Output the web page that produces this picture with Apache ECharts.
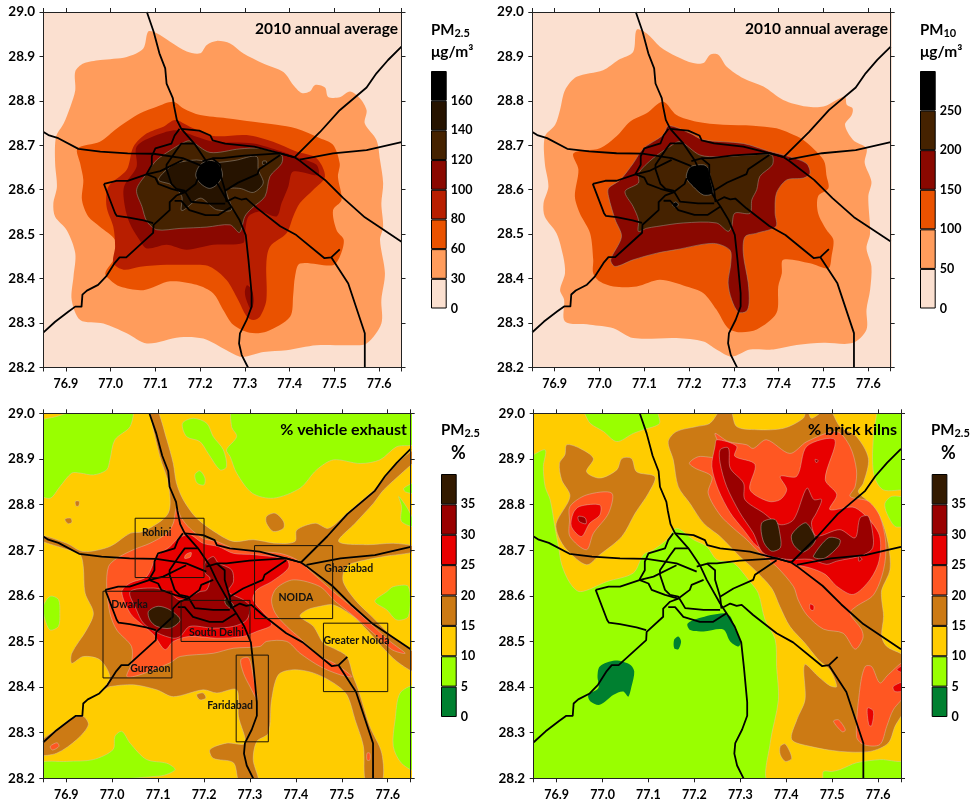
<!DOCTYPE html>
<html><head><meta charset="utf-8">
<style>html,body{margin:0;padding:0;background:#fff}#c{width:975px;height:804px}</style>
<script src="https://cdn.jsdelivr.net/npm/echarts@6/dist/echarts.min.js"></script>
</head><body><div id="c"></div>
<script>
// ---------- axis values ----------
const lonLabels=[76.9,77.0,77.1,77.2,77.3,77.4,77.5,77.6];
const lonTicks=[76.85,76.9,77.0,77.1,77.2,77.3,77.4,77.5,77.6,77.65];
const latLabels=[28.2,28.3,28.4,28.5,28.6,28.7,28.8,28.9,29.0];

// ---------- colour-bar tick labels ----------
const barPm25=['0','30','60','80','100','120','140','160',''];
const barPm10=['0','50','100','150','200','250',''];
const barPct=['0','5','10','15','20','25','30','35',''];

// ---------- plot extent ----------
const extent=[[76.84,28.19],[77.66,28.19],[77.66,29.01],[76.84,29.01]];

// ---------- roads (lon, lat) ----------
const roadNorth=[[77.081,29],[77.096,28.956],[77.109,28.907],[77.122,28.873],[77.125,28.839],[77.139,28.806],[77.142,28.787],[77.148,28.757],[77.158,28.737],[77.187,28.704],[77.212,28.667],[77.227,28.635],[77.256,28.583],[77.27,28.562],[77.288,28.532],[77.302,28.498],[77.308,28.442],[77.315,28.367],[77.315,28.337],[77.304,28.307],[77.289,28.277],[77.287,28.254],[77.293,28.228],[77.307,28.2]];
const roadWest=[[76.85,28.73],[76.861,28.723],[76.883,28.716],[76.928,28.692],[76.977,28.686],[77.038,28.682],[77.096,28.681],[77.161,28.671],[77.205,28.653]];
const roadEastInner=[[77.205,28.664],[77.23,28.671],[77.249,28.671],[77.299,28.677],[77.379,28.682],[77.411,28.673]];
const ringNorth=[[77.158,28.737],[77.198,28.733],[77.223,28.722],[77.228,28.711],[77.256,28.704],[77.321,28.697],[77.379,28.682],[77.411,28.673]];
const roadSouthEast=[[77.411,28.673],[77.423,28.665],[77.479,28.622],[77.52,28.581],[77.568,28.538],[77.65,28.483]];
const roadNorthEast=[[77.411,28.673],[77.468,28.73],[77.512,28.779],[77.572,28.83],[77.594,28.862],[77.62,28.892],[77.65,28.922]];
const roadEast=[[77.423,28.668],[77.497,28.682],[77.572,28.689],[77.65,28.707]];
const roadSouthWest=[[76.85,28.279],[76.876,28.303],[76.906,28.326],[76.921,28.337],[76.935,28.337],[76.937,28.364],[76.947,28.373],[76.972,28.386],[76.99,28.405],[77.009,28.435],[77.02,28.448],[77.035,28.448],[77.071,28.481],[77.095,28.503],[77.096,28.521],[77.132,28.554],[77.132,28.572],[77.147,28.587],[77.165,28.594],[77.19,28.613],[77.194,28.624],[77.22,28.635]];
const ringWestA=[[76.985,28.613],[77.01,28.547],[77.014,28.541],[77.038,28.538],[77.074,28.531],[77.095,28.525]];
const ringWestB=[[76.985,28.613],[77.013,28.62],[77.038,28.62],[77.082,28.635],[77.111,28.642],[77.161,28.667]];
const ringInnerA=[[77.154,28.737],[77.143,28.722],[77.136,28.704],[77.1,28.693],[77.092,28.675],[77.092,28.656],[77.08,28.635]];
const ringInnerB=[[77.187,28.704],[77.158,28.704],[77.147,28.689],[77.125,28.656],[77.125,28.646],[77.136,28.613],[77.147,28.602],[77.165,28.598],[77.18,28.573],[77.22,28.569],[77.256,28.569]];
const ringInnerC=[[77.08,28.635],[77.1,28.627],[77.107,28.613],[77.136,28.602],[77.165,28.594]];
const ringCentre=[[77.227,28.671],[77.245,28.656],[77.245,28.635],[77.256,28.598],[77.259,28.572]];
const ringSouth=[[77.143,28.575],[77.158,28.575],[77.176,28.554],[77.212,28.543],[77.241,28.543],[77.27,28.562]];
const roadConnector=[[77.256,28.598],[77.285,28.616],[77.328,28.635],[77.332,28.646],[77.379,28.678]];
const roadSE2=[[77.263,28.575],[77.278,28.583],[77.292,28.578],[77.303,28.58],[77.328,28.558],[77.379,28.518],[77.415,28.498],[77.478,28.446],[77.493,28.448],[77.512,28.466]];
const roadSE3=[[77.493,28.448],[77.531,28.389],[77.568,28.277],[77.568,28.2]];

// ---------- PM2.5 annual contours ----------
const pm25L30=[[77.084,28.956],[77.103,28.952],[77.133,28.933],[77.17,28.911],[77.2,28.907],[77.215,28.926],[77.237,28.935],[77.267,28.929],[77.296,28.907],[77.341,28.884],[77.386,28.865],[77.408,28.836],[77.427,28.818],[77.445,28.821],[77.457,28.836],[77.479,28.83],[77.486,28.809],[77.512,28.808],[77.535,28.821],[77.557,28.806],[77.572,28.779],[77.568,28.749],[77.594,28.712],[77.602,28.667],[77.609,28.614],[77.605,28.569],[77.609,28.517],[77.602,28.487],[77.613,28.412],[77.605,28.352],[77.605,28.299],[77.572,28.254],[77.535,28.25],[77.46,28.25],[77.393,28.239],[77.341,28.235],[77.293,28.224],[77.259,28.239],[77.207,28.265],[77.155,28.268],[77.081,28.254],[77.036,28.277],[76.984,28.299],[76.932,28.307],[76.913,28.352],[76.917,28.404],[76.921,28.457],[76.902,28.509],[76.876,28.539],[76.872,28.569],[76.88,28.607],[76.876,28.659],[76.878,28.719],[76.895,28.749],[76.91,28.787],[76.921,28.824],[76.921,28.866],[76.939,28.884],[76.977,28.892],[77.036,28.899],[77.073,28.918]];
const pm25L60=[[77.14,28.798],[77.163,28.783],[77.2,28.768],[77.259,28.761],[77.319,28.753],[77.371,28.746],[77.415,28.738],[77.468,28.716],[77.497,28.701],[77.512,28.659],[77.508,28.629],[77.516,28.577],[77.497,28.554],[77.505,28.509],[77.521,28.487],[77.512,28.449],[77.497,28.43],[77.423,28.434],[77.412,28.404],[77.408,28.363],[77.401,28.314],[77.349,28.281],[77.311,28.278],[77.274,28.296],[77.252,28.329],[77.229,28.367],[77.192,28.386],[77.133,28.394],[77.073,28.374],[77.021,28.382],[76.999,28.397],[76.988,28.412],[77.01,28.449],[77.01,28.487],[76.976,28.517],[76.95,28.54],[76.936,28.577],[76.939,28.622],[76.932,28.659],[76.926,28.693],[76.976,28.708],[77.014,28.738],[77.066,28.772],[77.103,28.787]];
const pm25L80=[[77.144,28.757],[77.177,28.742],[77.229,28.721],[77.304,28.723],[77.363,28.708],[77.415,28.686],[77.46,28.671],[77.479,28.63],[77.453,28.6],[77.423,28.57],[77.408,28.54],[77.393,28.502],[77.356,28.472],[77.348,28.434],[77.348,28.352],[77.334,28.315],[77.319,28.307],[77.304,28.315],[77.285,28.352],[77.259,28.397],[77.222,28.427],[77.177,28.431],[77.125,28.431],[77.066,28.427],[77.029,28.42],[77.006,28.435],[77.01,28.472],[77.006,28.517],[76.991,28.562],[76.995,28.607],[77.036,28.645],[77.051,28.697],[77.081,28.727],[77.118,28.742]];
const pm25L100=[[77.148,28.734],[77.192,28.719],[77.229,28.708],[77.319,28.704],[77.382,28.686],[77.423,28.671],[77.46,28.656],[77.464,28.633],[77.408,28.641],[77.397,28.607],[77.382,28.57],[77.371,28.54],[77.334,28.551],[77.308,28.54],[77.3,28.502],[77.296,28.48],[77.229,28.476],[77.17,28.465],[77.125,28.476],[77.081,28.468],[77.062,28.491],[77.043,28.524],[77.032,28.562],[77.03,28.607],[77.058,28.652],[77.058,28.697],[77.103,28.723]];
const pm25L100b=[[77.305,28.385],[77.315,28.375],[77.32,28.35],[77.314,28.33],[77.304,28.35],[77.3,28.37]];
const pm25L120=[[77.159,28.704],[77.177,28.71],[77.222,28.684],[77.289,28.692],[77.334,28.693],[77.382,28.678],[77.382,28.659],[77.356,28.63],[77.345,28.585],[77.315,28.558],[77.3,28.54],[77.288,28.504],[77.267,28.521],[77.215,28.516],[77.155,28.513],[77.103,28.51],[77.081,28.529],[77.07,28.562],[77.058,28.6],[77.081,28.637],[77.103,28.667],[77.14,28.693]];
const pm25L140=[[77.192,28.667],[77.229,28.661],[77.278,28.666],[77.326,28.675],[77.33,28.645],[77.341,28.615],[77.319,28.594],[77.289,28.603],[77.259,28.6],[77.27,28.555],[77.237,28.555],[77.226,28.562],[77.2,28.581],[77.159,28.553],[77.159,28.585],[77.136,28.611],[77.107,28.622],[77.125,28.645],[77.148,28.66]];
const pm25L140b=[[77.34,28.664],[77.348,28.664],[77.348,28.657],[77.34,28.657]];
const pm25L160=[[77.22,28.666],[77.24,28.66],[77.25,28.633],[77.237,28.611],[77.22,28.603],[77.2,28.615],[77.19,28.633],[77.2,28.656]];

// ---------- PM10 annual contours ----------
const pm10L50=[[77.083,28.96],[77.105,28.952],[77.135,28.922],[77.172,28.9],[77.209,28.885],[77.232,28.885],[77.247,28.904],[77.265,28.904],[77.284,28.877],[77.321,28.851],[77.366,28.832],[77.41,28.802],[77.462,28.787],[77.5,28.787],[77.529,28.802],[77.548,28.809],[77.552,28.791],[77.565,28.783],[77.563,28.768],[77.548,28.746],[77.566,28.712],[77.596,28.693],[77.592,28.66],[77.607,28.618],[77.6,28.585],[77.604,28.502],[77.596,28.468],[77.607,28.427],[77.604,28.374],[77.596,28.33],[77.596,28.285],[77.566,28.255],[77.5,28.255],[77.44,28.25],[77.388,28.24],[77.336,28.24],[77.295,28.224],[77.261,28.24],[77.232,28.258],[77.172,28.266],[77.075,28.266],[77.031,28.288],[76.979,28.296],[76.923,28.303],[76.921,28.352],[76.912,28.374],[76.923,28.412],[76.919,28.45],[76.904,28.502],[76.878,28.539],[76.875,28.569],[76.886,28.607],[76.878,28.659],[76.878,28.719],[76.901,28.746],[76.912,28.78],[76.923,28.824],[76.949,28.854],[77.008,28.869],[77.042,28.892],[77.075,28.91]];
const pm10L100=[[77.142,28.798],[77.172,28.768],[77.217,28.753],[77.276,28.746],[77.343,28.744],[77.395,28.738],[77.425,28.727],[77.455,28.712],[77.5,28.667],[77.507,28.63],[77.511,28.603],[77.488,28.585],[77.488,28.547],[77.507,28.509],[77.522,28.487],[77.518,28.45],[77.511,28.423],[77.47,28.434],[77.41,28.442],[77.407,28.412],[77.399,28.382],[77.395,28.322],[77.351,28.285],[77.313,28.279],[77.287,28.288],[77.261,28.33],[77.232,28.367],[77.194,28.382],[77.135,28.397],[77.083,28.382],[77.031,28.382],[77.001,28.393],[76.986,28.412],[76.986,28.442],[76.979,28.502],[76.956,28.547],[76.945,28.585],[76.953,28.645],[76.942,28.682],[77.001,28.693],[77.038,28.72],[77.068,28.753],[77.105,28.772]];
const pm10L150=[[77.154,28.744],[77.202,28.727],[77.232,28.712],[77.321,28.704],[77.38,28.686],[77.425,28.674],[77.462,28.659],[77.47,28.637],[77.455,28.626],[77.418,28.622],[77.395,28.592],[77.392,28.547],[77.394,28.517],[77.351,28.502],[77.325,28.494],[77.321,28.457],[77.332,28.39],[77.334,28.345],[77.328,28.326],[77.31,28.324],[77.295,28.352],[77.287,28.39],[77.293,28.434],[77.291,28.464],[77.254,28.479],[77.172,28.465],[77.128,28.457],[77.075,28.442],[77.035,28.427],[77.025,28.442],[77.049,28.494],[77.035,28.532],[77.02,28.585],[77.02,28.603],[77.046,28.622],[77.075,28.659],[77.098,28.693],[77.142,28.723]];
const pm10L200=[[77.157,28.697],[77.18,28.708],[77.224,28.678],[77.269,28.674],[77.336,28.678],[77.384,28.678],[77.386,28.656],[77.358,28.63],[77.351,28.6],[77.34,28.577],[77.336,28.547],[77.302,28.547],[77.295,28.517],[77.287,28.506],[77.261,28.525],[77.187,28.525],[77.128,28.517],[77.105,28.513],[77.087,28.506],[77.087,28.532],[77.075,28.562],[77.057,28.596],[77.087,28.615],[77.087,28.637],[77.12,28.671]];
const pm10L250=[[77.206,28.653],[77.232,28.656],[77.243,28.648],[77.248,28.622],[77.253,28.592],[77.232,28.588],[77.209,28.607],[77.194,28.626],[77.198,28.645]];
const pm10L250b=[[77.169,28.572],[77.174,28.57],[77.176,28.566],[77.17,28.56],[77.163,28.566]];

// ---------- % vehicle exhaust contours ----------
const vehLimeA=[[76.84,28.978],[76.879,28.993],[76.944,29.01],[77.042,29.01],[77.039,28.971],[77.006,28.942],[76.995,28.898],[76.988,28.876],[76.959,28.865],[76.93,28.869],[76.912,28.869],[76.886,28.839],[76.865,28.814],[76.84,28.825]];
const vehLimeB=[[77.264,29.01],[77.66,29.01],[77.66,28.934],[77.62,28.927],[77.583,28.898],[77.54,28.89],[77.482,28.898],[77.445,28.876],[77.409,28.836],[77.351,28.814],[77.305,28.825],[77.271,28.869],[77.257,28.905],[77.249,28.92],[77.271,28.949],[77.26,28.971]];
const vehLimeC=[[77.153,28.978],[77.177,28.989],[77.206,28.978],[77.22,28.949],[77.242,28.92],[77.249,28.883],[77.235,28.876],[77.209,28.912],[77.191,28.938],[77.162,28.949]];
const vehLimeD=[[77.18,28.865],[77.191,28.874],[77.202,28.858],[77.2,28.843],[77.185,28.847]];
const vehLimeE=[[76.85,28.577],[76.865,28.599],[76.883,28.592],[76.886,28.562],[76.883,28.533],[76.865,28.525],[76.854,28.547]];
const vehLimeF=[[77.572,28.588],[77.598,28.609],[77.612,28.62],[77.645,28.62],[77.645,28.555],[77.62,28.547],[77.598,28.569]];
const vehLimeG=[[77.66,28.847],[77.635,28.836],[77.638,28.828],[77.66,28.825]];
const vehLimeH=[[77.624,28.818],[77.645,28.788],[77.66,28.752],[77.63,28.763],[77.63,28.796]];
const vehLimeI=[[77.66,28.401],[77.627,28.387],[77.616,28.328],[77.612,28.27],[77.63,28.233],[77.66,28.219]];
const vehLimeJ=[[76.84,28.233],[76.901,28.237],[76.959,28.241],[77.002,28.263],[77.006,28.292],[77.021,28.303],[77.039,28.277],[77.075,28.241],[77.119,28.233],[77.137,28.219],[77.104,28.205],[76.84,28.195]];
const vehBrownMain=[[77.082,29.01],[77.097,29.01],[77.119,28.942],[77.133,28.89],[77.14,28.847],[77.155,28.81],[77.184,28.77],[77.228,28.737],[77.264,28.719],[77.307,28.723],[77.358,28.715],[77.398,28.719],[77.402,28.744],[77.442,28.759],[77.471,28.748],[77.511,28.781],[77.554,28.818],[77.576,28.838],[77.62,28.89],[77.66,28.921],[77.66,28.898],[77.634,28.872],[77.591,28.832],[77.569,28.803],[77.529,28.759],[77.493,28.719],[77.554,28.712],[77.612,28.715],[77.66,28.708],[77.66,28.697],[77.591,28.686],[77.525,28.672],[77.507,28.661],[77.503,28.631],[77.529,28.591],[77.565,28.555],[77.605,28.515],[77.66,28.471],[77.66,28.434],[77.62,28.456],[77.587,28.489],[77.554,28.526],[77.525,28.555],[77.482,28.58],[77.453,28.577],[77.424,28.569],[77.409,28.555],[77.438,28.533],[77.46,28.496],[77.482,28.485],[77.511,28.467],[77.525,28.423],[77.536,28.394],[77.561,28.314],[77.587,28.255],[77.587,28.19],[77.553,28.19],[77.547,28.27],[77.529,28.328],[77.511,28.383],[77.482,28.409],[77.438,28.431],[77.395,28.438],[77.362,28.427],[77.347,28.372],[77.34,28.299],[77.315,28.281],[77.307,28.241],[77.318,28.19],[77.278,28.19],[77.264,28.234],[77.22,28.244],[77.213,28.263],[77.249,28.277],[77.289,28.277],[77.275,28.336],[77.271,28.394],[77.228,28.387],[77.198,28.394],[77.133,28.379],[77.097,28.394],[77.046,28.405],[76.995,28.401],[76.981,28.394],[76.995,28.423],[76.973,28.46],[76.937,28.467],[76.912,28.452],[76.912,28.474],[76.944,28.525],[76.959,28.562],[76.941,28.606],[76.937,28.664],[76.93,28.69],[76.894,28.704],[76.84,28.723],[76.84,28.734],[76.901,28.715],[76.937,28.697],[76.995,28.708],[77.039,28.737],[77.068,28.741],[77.122,28.781],[77.122,28.847],[77.104,28.905]];
const vehBrownSW=[[76.84,28.277],[76.883,28.31],[76.912,28.332],[76.937,28.336],[76.948,28.317],[76.923,28.285],[76.879,28.255],[76.84,28.252]];
const vehBrownN=[[77.336,28.774],[77.355,28.781],[77.373,28.763],[77.373,28.748],[77.351,28.741],[77.336,28.759]];
const vehBrownA=[[76.897,28.768],[76.91,28.77],[76.912,28.761],[76.904,28.758]];
const vehBrownB=[[76.92,28.807],[76.928,28.807],[76.927,28.797],[76.921,28.797]];
const vehBrownC=[[77.184,28.383],[77.198,28.387],[77.204,28.376],[77.191,28.372]];
const vehOrangeMain=[[77.14,28.792],[77.151,28.77],[77.169,28.748],[77.198,28.726],[77.228,28.719],[77.264,28.704],[77.315,28.697],[77.365,28.693],[77.402,28.679],[77.445,28.642],[77.482,28.609],[77.525,28.573],[77.569,28.533],[77.605,28.5],[77.638,28.474],[77.609,28.482],[77.569,28.518],[77.518,28.562],[77.482,28.591],[77.453,28.62],[77.395,28.635],[77.358,28.617],[77.347,28.591],[77.355,28.562],[77.38,28.533],[77.409,28.507],[77.453,28.467],[77.482,28.453],[77.522,28.423],[77.496,28.427],[77.453,28.445],[77.409,28.474],[77.38,28.5],[77.336,28.5],[77.322,28.489],[77.264,28.485],[77.22,28.474],[77.148,28.467],[77.126,28.453],[77.061,28.427],[77.032,28.423],[77.042,28.452],[77.042,28.489],[77.01,28.525],[76.995,28.562],[76.988,28.62],[76.992,28.664],[77.01,28.682],[77.046,28.701],[77.082,28.715],[77.119,28.737],[77.133,28.759]];
const vehOrangeF=[[77.28,28.46],[77.297,28.464],[77.307,28.424],[77.316,28.372],[77.3,28.401],[77.286,28.43]];
const vehOrangeSW=[[76.865,28.27],[76.88,28.278],[76.884,28.27],[76.87,28.262]];
const vehOrangeS=[[77.555,28.255],[77.561,28.255],[77.561,28.24],[77.555,28.24]];
const vehRedMain=[[77.144,28.726],[77.169,28.734],[77.198,28.715],[77.231,28.708],[77.264,28.693],[77.311,28.69],[77.38,28.679],[77.384,28.661],[77.347,28.631],[77.315,28.613],[77.307,28.591],[77.336,28.555],[77.347,28.536],[77.315,28.522],[77.286,28.511],[77.228,28.507],[77.169,28.511],[77.133,28.5],[77.115,28.482],[77.09,28.515],[77.061,28.54],[77.039,28.562],[77.021,28.609],[77.039,28.628],[77.075,28.642],[77.097,28.686],[77.126,28.708]];
const vehOrangeInner=[[77.16,28.69],[77.172,28.695],[77.17,28.685],[77.158,28.682]];
const vehDarkMain=[[77.202,28.672],[77.22,28.686],[77.231,28.672],[77.26,28.657],[77.264,28.631],[77.253,28.609],[77.286,28.591],[77.3,28.577],[77.293,28.547],[77.264,28.533],[77.22,28.529],[77.169,28.533],[77.148,28.511],[77.133,28.507],[77.1,28.518],[77.068,28.54],[77.053,28.569],[77.039,28.609],[77.09,28.617],[77.122,28.609],[77.148,28.591],[77.191,28.609],[77.206,28.613],[77.213,28.639],[77.202,28.65]];
const vehTopA=[[77.079,28.566],[77.1,28.577],[77.126,28.569],[77.148,28.547],[77.126,28.529],[77.097,28.533],[77.082,28.547]];
const vehTopB=[[77.247,28.595],[77.264,28.58],[77.257,28.573],[77.246,28.584]];

// study-region boxes: lon0, lat0, lon1, lat1
const regionBoxes=[[77.05,28.64,77.2,28.77],[77.31,28.55,77.48,28.71],[76.98,28.42,77.13,28.61],[77.15,28.5,77.3,28.59],[77.27,28.28,77.34,28.47],[77.46,28.39,77.6,28.54]];
const regionNames=['Rohini','Ghaziabad','NOIDA','Dwarka','South Delhi','Gurgaon','Faridabad','Greater Noida'];
const regionLon=[77.097,77.515,77.4,77.038,77.227,77.083,77.257,77.532];
const regionLat=[28.739,28.66,28.595,28.581,28.52,28.44,28.359,28.502];

// ---------- % brick kilns contours ----------
const kilnYellow=[[76.83,29.02],[76.951,29.01],[76.973,28.978],[77.002,28.96],[77.031,28.938],[77.067,28.956],[77.089,28.964],[77.124,28.978],[77.122,29.01],[77.59,29.01],[77.59,28.956],[77.588,28.898],[77.593,28.858],[77.612,28.832],[77.66,28.831],[77.66,28.818],[77.63,28.818],[77.615,28.803],[77.619,28.781],[77.637,28.752],[77.66,28.748],[77.66,28.244],[77.604,28.241],[77.553,28.234],[77.517,28.219],[77.499,28.215],[77.481,28.215],[77.477,28.19],[77.361,28.19],[77.365,28.277],[77.383,28.372],[77.379,28.445],[77.376,28.504],[77.354,28.547],[77.339,28.606],[77.321,28.631],[77.285,28.672],[77.249,28.679],[77.227,28.708],[77.198,28.723],[77.161,28.748],[77.14,28.723],[77.111,28.701],[77.089,28.69],[77.067,28.65],[77.009,28.631],[76.951,28.609],[76.929,28.628],[76.911,28.668],[76.904,28.708],[76.896,28.752],[76.886,28.81],[76.875,28.839],[76.871,28.883],[76.875,28.92],[76.84,28.909]];
const kilnGreenA=[[76.994,28.445],[77.027,28.458],[77.06,28.449],[77.069,28.434],[77.063,28.401],[77.056,28.379],[77.045,28.39],[77.024,28.383],[76.994,28.361],[76.973,28.369],[76.969,28.383],[76.991,28.398],[76.989,28.423]];
const kilnGreenB=[[77.185,28.539],[77.209,28.551],[77.263,28.562],[77.278,28.555],[77.289,28.526],[77.301,28.5],[77.296,28.489],[77.278,28.5],[77.263,28.526],[77.22,28.522],[77.191,28.525]];
const kilnGreenC=[[77.156,28.504],[77.165,28.511],[77.171,28.5],[77.165,28.483],[77.156,28.485]];
const kilnBrownNW=[[76.922,28.931],[76.951,28.923],[76.98,28.901],[76.965,28.872],[76.994,28.858],[77.031,28.876],[77.042,28.901],[77.063,28.901],[77.074,28.872],[77.114,28.861],[77.1,28.825],[77.071,28.781],[77.042,28.73],[76.994,28.69],[76.965,28.668],[76.922,28.701],[76.904,28.73],[76.899,28.759],[76.929,28.818],[76.911,28.854],[76.906,28.89],[76.918,28.909]];
const kilnBrownE=[[77.143,28.938],[77.161,28.96],[77.205,28.971],[77.234,28.978],[77.259,29.01],[77.278,29.01],[77.292,28.971],[77.336,28.964],[77.394,28.967],[77.437,28.989],[77.445,29.01],[77.455,28.989],[77.492,29.01],[77.517,28.971],[77.553,28.949],[77.579,28.901],[77.568,28.847],[77.557,28.828],[77.575,28.81],[77.604,28.774],[77.622,28.715],[77.626,28.657],[77.608,28.613],[77.608,28.591],[77.612,28.555],[77.608,28.511],[77.619,28.489],[77.66,28.463],[77.66,28.358],[77.637,28.314],[77.622,28.277],[77.583,28.259],[77.517,28.259],[77.452,28.27],[77.412,28.285],[77.423,28.328],[77.441,28.372],[77.44,28.449],[77.47,28.423],[77.495,28.403],[77.51,28.401],[77.495,28.438],[77.47,28.46],[77.441,28.496],[77.408,28.533],[77.386,28.577],[77.368,28.617],[77.328,28.66],[77.299,28.686],[77.256,28.73],[77.22,28.759],[77.19,28.803],[77.165,28.839],[77.154,28.898]];
const kilnBrownS=[[77.387,28.27],[77.398,28.275],[77.412,28.244],[77.398,28.237],[77.387,28.252]];
const kilnOrangeNW=[[76.929,28.796],[76.965,28.821],[77.02,28.825],[77.013,28.781],[76.98,28.737],[76.965,28.701],[76.929,28.73],[76.928,28.766]];
const kilnOrangeE=[[77.245,28.956],[77.274,28.938],[77.314,28.931],[77.328,28.923],[77.357,28.942],[77.408,28.912],[77.445,28.938],[77.51,28.96],[77.539,28.927],[77.553,28.876],[77.55,28.839],[77.539,28.818],[77.579,28.807],[77.604,28.774],[77.617,28.715],[77.612,28.657],[77.59,28.602],[77.553,28.577],[77.539,28.562],[77.564,28.526],[77.567,28.507],[77.55,28.483],[77.524,28.518],[77.481,28.527],[77.445,28.558],[77.426,28.591],[77.416,28.62],[77.379,28.664],[77.339,28.697],[77.314,28.723],[77.285,28.748],[77.256,28.777],[77.23,28.825],[77.238,28.861],[77.201,28.88],[77.189,28.891],[77.209,28.905],[77.249,28.905],[77.252,28.934]];
const kilnOrangeSE=[[77.553,28.292],[77.561,28.401],[77.572,28.445],[77.586,28.445],[77.604,28.409],[77.622,28.427],[77.66,28.456],[77.66,28.387],[77.633,28.35],[77.619,28.314],[77.604,28.274],[77.568,28.274]];
const kilnOrangeS=[[77.503,28.325],[77.514,28.328],[77.529,28.306],[77.522,28.302]];
const kilnRedNW=[[76.936,28.781],[76.95,28.796],[76.994,28.799],[76.994,28.777],[76.972,28.759],[76.954,28.73],[76.932,28.752]];
const kilnRedE=[[77.249,28.942],[77.292,28.928],[77.288,28.906],[77.332,28.888],[77.321,28.833],[77.361,28.807],[77.387,28.811],[77.401,28.833],[77.387,28.862],[77.423,28.862],[77.445,28.928],[77.506,28.942],[77.485,28.855],[77.51,28.822],[77.495,28.789],[77.55,28.793],[77.601,28.738],[77.603,28.68],[77.583,28.636],[77.546,28.603],[77.51,28.621],[77.485,28.647],[77.452,28.661],[77.419,28.669],[77.368,28.694],[77.336,28.709],[77.307,28.745],[77.278,28.782],[77.252,28.833],[77.238,28.884],[77.245,28.928]];
const kilnRedA=[[77.452,28.582],[77.46,28.578],[77.459,28.568],[77.452,28.571]];
const kilnRedB=[[77.577,28.354],[77.59,28.347],[77.586,28.315],[77.58,28.317]];
const kilnRedC=[[77.641,28.438],[77.66,28.449],[77.66,28.431]];
const kilnRedD=[[77.633,28.401],[77.66,28.412],[77.66,28.394],[77.637,28.39]];
const kilnDarkE=[[77.256,28.92],[77.274,28.924],[77.278,28.88],[77.307,28.847],[77.31,28.811],[77.35,28.782],[77.387,28.756],[77.416,28.767],[77.445,28.836],[77.46,28.811],[77.477,28.811],[77.466,28.782],[77.455,28.76],[77.466,28.731],[77.517,28.745],[77.55,28.727],[77.561,28.771],[77.579,28.774],[77.59,28.723],[77.586,28.701],[77.561,28.687],[77.51,28.676],[77.488,28.669],[77.452,28.68],[77.401,28.68],[77.35,28.694],[77.328,28.738],[77.299,28.782],[77.27,28.84],[77.256,28.891]];
const kilnDarkNW=[[76.947,28.774],[76.962,28.771],[76.964,28.758],[76.949,28.763]];
const kilnDarkA=[[77.463,28.899],[77.47,28.896],[77.465,28.892]];
const kilnDarkB=[[77.558,28.687],[77.565,28.68],[77.558,28.676]];
const kilnTopA=[[77.347,28.76],[77.376,28.767],[77.387,28.731],[77.387,28.705],[77.368,28.698],[77.35,28.72]];
const kilnTopB=[[77.412,28.734],[77.441,28.76],[77.455,28.745],[77.463,28.72],[77.437,28.696],[77.416,28.712]];
const kilnTopC=[[77.459,28.687],[77.492,28.727],[77.517,28.723],[77.514,28.709],[77.485,28.683],[77.466,28.682]];

// ---------- palettes ----------
const pmColors=['#FBE0D0','#FF9C5C','#EA5200','#B81E00','#8A0800','#452200','#261300','#000000'];
const pm10Colors=['#FBE0D0','#FF9C5C','#EA5200','#8A0800','#452200','#000000'];
const pctColors=['#008030','#99FF00','#FFCC00','#CC7A14','#FF5722','#E80000','#990000','#331A00'];

const allRoads=[roadNorth,roadWest,roadEastInner,ringNorth,roadSouthEast,roadNorthEast,roadEast,roadSouthWest,ringWestA,ringWestB,ringInnerA,ringInnerB,ringInnerC,ringCentre,ringSouth,roadConnector,roadSE2,roadSE3];

const FONT='Lato';
const panels=[
 {grid:{left:43.5,top:12,width:358,height:355.5},strokeFrom:6,
  layers:[[extent,pmColors[0]],[pm25L30,pmColors[1]],[pm25L60,pmColors[2]],[pm25L80,pmColors[3]],[pm25L100,pmColors[4]],[pm25L100b,pmColors[4]],[pm25L120,pmColors[5]],[pm25L140,pmColors[6]],[pm25L140b,pmColors[6]],[pm25L160,pmColors[7]]],
  bar:{left:431,top:71,width:15.7,height:237.5},ticks:barPm25,colors:pmColors},
 {grid:{left:532.3,top:12,width:358.4,height:355.3},strokeFrom:4,
  layers:[[extent,pm10Colors[0]],[pm10L50,pm10Colors[1]],[pm10L100,pm10Colors[2]],[pm10L150,pm10Colors[3]],[pm10L200,pm10Colors[4]],[pm10L250,pm10Colors[5]],[pm10L250b,pm10Colors[5]]],
  bar:{left:920,top:71,width:15.7,height:237.5},ticks:barPm10,colors:pm10Colors},
 {grid:{left:43.3,top:413.3,width:367.4,height:365},strokeFrom:1,
  layers:[[extent,pctColors[2]],[vehLimeA,pctColors[1]],[vehLimeB,pctColors[1]],[vehLimeC,pctColors[1]],[vehLimeD,pctColors[1]],[vehLimeE,pctColors[1]],[vehLimeF,pctColors[1]],[vehLimeG,pctColors[1]],[vehLimeH,pctColors[1]],[vehLimeI,pctColors[1]],[vehLimeJ,pctColors[1]],
   [vehBrownMain,pctColors[3]],[vehBrownSW,pctColors[3]],[vehBrownN,pctColors[3]],[vehBrownA,pctColors[3]],[vehBrownB,pctColors[3]],[vehBrownC,pctColors[3]],
   [vehOrangeMain,pctColors[4]],[vehOrangeF,pctColors[4]],[vehOrangeSW,pctColors[4]],[vehOrangeS,pctColors[4]],[vehRedMain,pctColors[5]],[vehOrangeInner,pctColors[4]],[vehDarkMain,pctColors[6]],[vehTopA,pctColors[7]],[vehTopB,pctColors[7]]],
  bar:{left:441,top:474,width:15.7,height:243},ticks:barPct,colors:pctColors},
 {grid:{left:533.7,top:413.3,width:367.3,height:365},strokeFrom:1,
  layers:[[extent,pctColors[1]],[kilnYellow,pctColors[2]],[kilnGreenA,pctColors[0]],[kilnGreenB,pctColors[0]],[kilnGreenC,pctColors[0]],
   [kilnBrownNW,pctColors[3]],[kilnBrownE,pctColors[3]],[kilnBrownS,pctColors[3]],[kilnOrangeNW,pctColors[4]],[kilnOrangeE,pctColors[4]],[kilnOrangeSE,pctColors[4]],[kilnOrangeS,pctColors[4]],
   [kilnRedNW,pctColors[5]],[kilnRedE,pctColors[5]],[kilnRedA,pctColors[5]],[kilnRedB,pctColors[5]],[kilnRedC,pctColors[5]],[kilnRedD,pctColors[5]],
   [kilnDarkE,pctColors[6]],[kilnDarkNW,pctColors[6]],[kilnDarkA,pctColors[6]],[kilnDarkB,pctColors[6]],[kilnTopA,pctColors[7]],[kilnTopB,pctColors[7]],[kilnTopC,pctColors[7]]],
  bar:{left:931.7,top:474,width:15.7,height:243},ticks:barPct,colors:pctColors}
];

const grids=[],xAxes=[],yAxes=[],series=[];
const lineC='#222';
panels.forEach((p,i)=>{
  const g=grids.length;
  grids.push(Object.assign({containLabel:false},p.grid));
  const xa=xAxes.length,ya=yAxes.length;
  const tickCfg={show:true,length:4,lineStyle:{color:lineC,width:1}};
  xAxes.push({gridIndex:g,type:'value',min:76.85,max:77.65,position:'bottom',z:10,splitLine:{show:false},
    axisLine:{show:true,onZero:false,lineStyle:{color:lineC,width:1}},
    axisTick:Object.assign({customValues:lonTicks},tickCfg),
    axisLabel:{customValues:lonLabels,formatter:v=>v.toFixed(1),fontFamily:FONT,fontWeight:'bold',fontSize:12.5,color:'#000',margin:10}});
  xAxes.push({gridIndex:g,type:'value',min:76.85,max:77.65,position:'top',z:10,splitLine:{show:false},
    axisLine:{show:true,onZero:false,lineStyle:{color:lineC,width:1}},
    axisTick:Object.assign({customValues:lonTicks},tickCfg),axisLabel:{show:false}});
  yAxes.push({gridIndex:g,type:'value',min:28.2,max:29,position:'left',z:10,splitLine:{show:false},
    axisLine:{show:true,onZero:false,lineStyle:{color:lineC,width:1}},
    axisTick:Object.assign({customValues:latLabels},tickCfg),
    axisLabel:{customValues:latLabels,formatter:v=>v.toFixed(1),fontFamily:FONT,fontWeight:'bold',fontSize:13.5,color:'#000',margin:8.5}});
  yAxes.push({gridIndex:g,type:'value',min:28.2,max:29,position:'right',z:10,splitLine:{show:false},
    axisLine:{show:true,onZero:false,lineStyle:{color:lineC,width:1}},
    axisTick:Object.assign({customValues:latLabels},tickCfg),axisLabel:{show:false}});

  const layers=p.layers;
  const strokeColor=i<2?'rgba(150,140,125,0.8)':'rgba(215,205,195,0.6)';
  series.push({type:'custom',xAxisIndex:xa,yAxisIndex:ya,coordinateSystem:'cartesian2d',clip:true,z:2,silent:true,animation:false,
    data:layers.map(l=>l[0][0]),
    renderItem:(params,api)=>{
      const l=layers[params.dataIndex];
      const isBg=params.dataIndex===0;
      const stroked=!isBg&&p.colors.indexOf(l[1])>=p.strokeFrom-(i<2?1:0);
      return {type:'polygon',shape:{points:l[0].map(pt=>api.coord(pt)),smooth:isBg?0:0.3},
        style:{fill:l[1],stroke:stroked?strokeColor:null,lineWidth:0.7}};
    }});
  allRoads.forEach(r=>series.push({type:'line',xAxisIndex:xa,yAxisIndex:ya,data:r,showSymbol:false,silent:true,animation:false,z:5,clip:true,
    lineStyle:{color:'#000',width:1.8,join:'round'}}));
  if(i===2){
    regionBoxes.forEach(b=>series.push({type:'line',xAxisIndex:xa,yAxisIndex:ya,showSymbol:false,silent:true,animation:false,z:6,
      data:[[b[0],b[1]],[b[2],b[1]],[b[2],b[3]],[b[0],b[3]],[b[0],b[1]]],lineStyle:{color:'#1a1208',width:1}}));
    series.push({type:'custom',xAxisIndex:xa,yAxisIndex:ya,coordinateSystem:'cartesian2d',z:7,silent:true,animation:false,
      data:regionLon.map((lon,k)=>[lon,regionLat[k]]),
      renderItem:(params,api)=>{
        const c=api.coord([regionLon[params.dataIndex],regionLat[params.dataIndex]]);
        return {type:'text',x:c[0],y:c[1],style:{text:regionNames[params.dataIndex],align:'center',verticalAlign:'middle',font:'bold 10.5px '+FONT,fill:'#111'}};
      }});
  }
  // colour bar
  const bg=grids.length;
  grids.push(p.bar);
  const bx=xAxes.length,by=yAxes.length;
  xAxes.push({gridIndex:bg,type:'category',data:['level'],show:false});
  yAxes.push({gridIndex:bg,type:'value',min:0,max:p.colors.length,interval:1,position:'right',splitLine:{show:false},
    axisLine:{show:false},axisTick:{show:false},
    axisLabel:{formatter:v=>p.ticks[v],fontFamily:FONT,fontWeight:'bold',fontSize:12.5,color:'#000',margin:4}});
  p.colors.forEach(c=>series.push({type:'bar',xAxisIndex:bx,yAxisIndex:by,stack:'bar'+i,data:[1],barWidth:'100%',silent:true,animation:false,
    itemStyle:{color:c,borderColor:'#000',borderWidth:1}}));
});

const rich={a:{fontFamily:FONT,fontWeight:'bold',fontSize:15,color:'#000'},b:{fontFamily:FONT,fontWeight:'bold',fontSize:11,color:'#000',padding:[6,0,0,0]}};
const T=(text,pos,size)=>Object.assign({text,textStyle:{fontFamily:FONT,fontWeight:'bold',fontSize:size||15.5,color:'#000',rich},padding:0},pos);
const titles=[
 T('2010 annual average',{right:577,top:21}),
 T('2010 annual average',{right:87,top:21}),
 T('% vehicle exhaust',{right:568,top:422},16),
 T('% brick kilns',{right:78,top:422},16),
 T('{a|PM}{b|2.5}',{left:431,top:22}),
 T('μg/m³',{left:431,top:44}),
 T('{a|PM}{b|10}',{left:920,top:22}),
 T('μg/m³',{left:920,top:44}),
 T('{a|PM}{b|2.5}',{left:441,top:422}),
 T('%',{left:451,top:444},18),
 T('{a|PM}{b|2.5}',{left:931,top:422}),
 T('%',{left:941,top:444},18)
];

const chart=echarts.init(document.getElementById('c'),null,{renderer:'canvas'});
chart.setOption({animation:false,backgroundColor:'#fff',title:titles,grid:grids,xAxis:xAxes,yAxis:yAxes,series});
</script></body></html>
